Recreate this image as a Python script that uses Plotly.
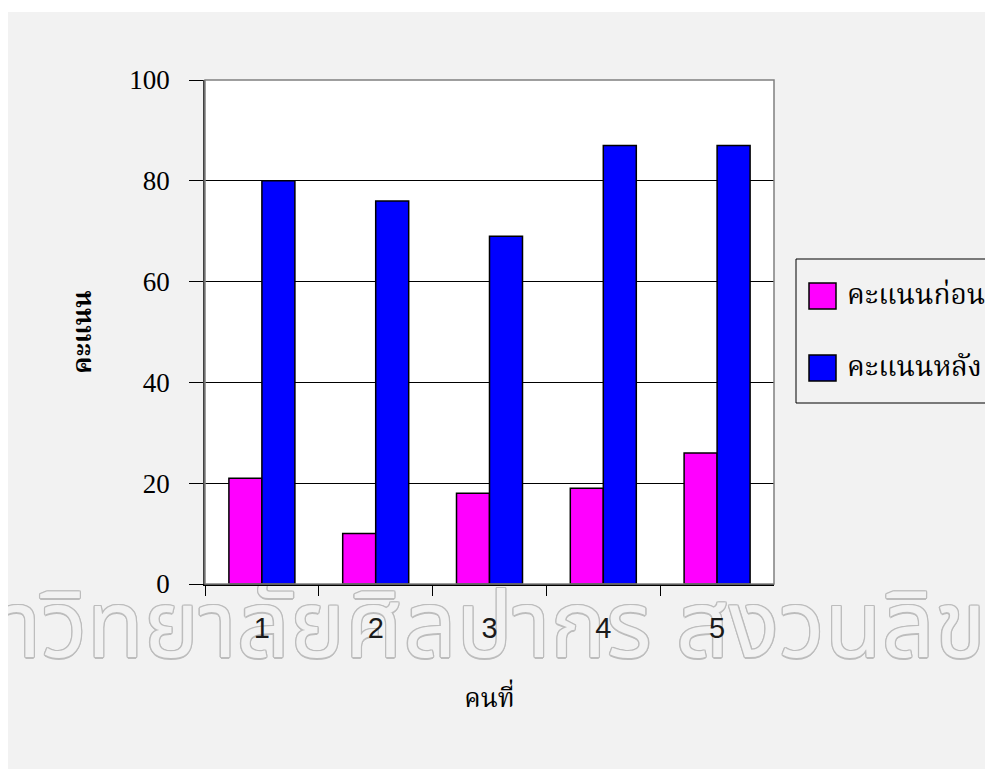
import plotly.graph_objects as go

categories = ["1", "2", "3", "4", "5"]
before_scores = [21, 10, 18, 19, 26]
after_scores = [80, 76, 69, 87, 87]
series_names = ["คะแนนก่อน", "คะแนนหลัง"]
series_colors = ["#FF00FF", "#0000FF"]
x_title = "คนที่"
y_title = "คะแนน"
watermark = "มหาวิทยาลัยศิลปากร สงวนลิขสิทธิ์"

# the page puts the figure at an 8px body margin, so the figure is 8px smaller
OFF = 8
W, H = 993 - OFF, 769 - OFF
L, R, T, B = 205, 774, 80, 584  # main plot area in page pixels

def fx(p):  # page x pixel -> paper x
    return (p - OFF) / W

def fy(p):  # page y pixel -> paper y
    return 1 - (p - OFF) / H

thai = "Noto Serif Thai, Noto Sans Thai, serif"

fig = go.Figure()

# watermark on a background subplot (xy) measured in pixels, so the chart subplot draws over it
nudges = [(-1.3, 0), (1.3, 0), (0, -1.3), (0, 1.3), (-1, -1), (1, 1), (-1, 1), (1, -1), (0, 0)]
wm_cx, wm_cy = 519 - OFF, H - (634 - OFF)
fig.add_trace(go.Scatter(x=[wm_cx + dx for dx, dy in nudges], y=[wm_cy + dy for dx, dy in nudges],
                         mode="text", text=[watermark] * len(nudges),
                         textposition="middle center", cliponaxis=False,
                         hoverinfo="skip", showlegend=False, xaxis="x", yaxis="y",
                         textfont=dict(family="Noto Sans Thai, Noto Serif Thai, sans-serif", size=93,
                                       color=["#bdbdbd"] * (len(nudges) - 1) + ["#F2F2F2"])))

for name, vals, col in zip(series_names, [before_scores, after_scores], series_colors):
    fig.add_trace(go.Bar(x=categories, y=vals, name=name, xaxis="x2", yaxis="y2",
                         marker=dict(color=col, line=dict(color="black", width=1.5))))

shapes = [
    dict(type="rect", xref="paper", yref="paper", x0=-0.05, x1=1.05, y0=fy(12), y1=1.05,
         fillcolor="white", line=dict(width=0), layer="below"),
    dict(type="rect", xref="x2 domain", yref="y2 domain", x0=0, x1=1, y0=0, y1=1,
         fillcolor="white", line=dict(width=0), layer="below"),
    dict(type="rect", xref="x2 domain", yref="y2 domain", x0=0, x1=1, y0=0, y1=1,
         line=dict(color="#808080", width=1.5), layer="above"),
    dict(type="rect", xref="paper", yref="paper", x0=fx(796), x1=fx(1005), y0=fy(403), y1=fy(259),
         line=dict(color="black", width=1), fillcolor="rgba(0,0,0,0)", layer="above"),
]
annotations = []
# legend drawn as swatches + labels inside a framed box
legend_centers = [296, 368]
for name, col, cy in zip(series_names, series_colors, legend_centers):
    shapes.append(dict(type="rect", xref="paper", yref="paper",
                       x0=fx(809), x1=fx(836), y0=fy(cy + 13), y1=fy(cy - 13),
                       fillcolor=col, line=dict(color="black", width=1.5), layer="above"))
    annotations.append(dict(text=name, xref="paper", yref="paper", x=fx(845), y=fy(cy),
                            xanchor="left", yanchor="middle", showarrow=False,
                            font=dict(family=thai, size=28, color="black")))

fig.update_layout(
    width=W, height=H,
    margin=dict(l=0, r=0, t=0, b=0, autoexpand=False),
    paper_bgcolor="#F2F2F2",
    plot_bgcolor="rgba(0,0,0,0)",
    barmode="group", bargap=0.42, bargroupgap=0,
    showlegend=False,
    xaxis=dict(domain=[0, 1], range=[0, W], visible=False, fixedrange=True),
    yaxis=dict(domain=[0, 1], range=[0, H], visible=False, fixedrange=True),
    xaxis2=dict(domain=[fx(L), fx(R)], anchor="y2", type="category", range=[-0.5, 4.5],
                showline=True, linecolor="black", linewidth=1.5,
                ticks="outside", ticklen=10, tickcolor="black", tickwidth=1,
                tickson="boundaries", showgrid=False,
                tickfont=dict(family="Liberation Sans, Arial, sans-serif", size=29, color="#1a1a1a"),
                ticklabelstandoff=17,
                title=dict(text=x_title, font=dict(family=thai, size=26, color="black"), standoff=46)),
    yaxis2=dict(domain=[fy(B), fy(T)], anchor="x2", range=[0, 100], dtick=20,
                showline=True, linecolor="#404040", linewidth=1.5,
                ticks="outside", ticklen=14, tickcolor="black", tickwidth=1,
                showgrid=True, gridcolor="black", gridwidth=1, zeroline=False,
                tickfont=dict(family="Liberation Serif, Times New Roman, serif", size=27, color="black"),
                ticklabelstandoff=14,
                title=dict(text="<b>" + y_title + "</b>", font=dict(family=thai, size=26, color="black"), standoff=30)),
    shapes=shapes,
    annotations=annotations,
)

fig.write_html("out.html")
